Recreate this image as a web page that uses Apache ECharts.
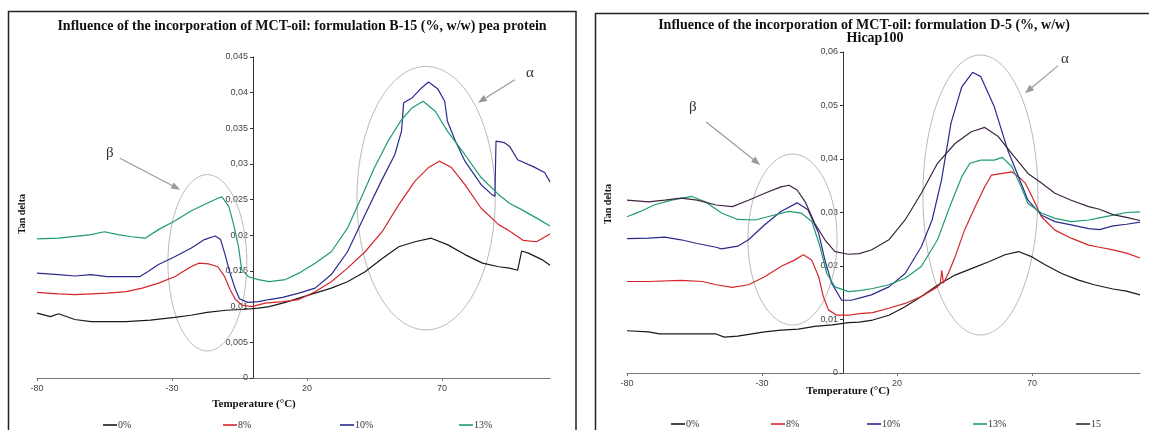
<!DOCTYPE html>
<html><head><meta charset="utf-8">
<script src="https://cdn.jsdelivr.net/npm/echarts@6/dist/echarts.min.js"></script>
<style>html,body{margin:0;padding:0;background:#fff}#c{width:1149px;height:430px}</style>
</head><body><div id="c"></div>
<script>
// ---- texts ----
const titleB = 'Influence of the incorporation of MCT-oil: formulation B-15 (%, w/w) pea protein';
const titleD1 = 'Influence of the incorporation of MCT-oil: formulation D-5 (%, w/w)';
const titleD2 = 'Hicap100';
const xName = 'Temperature (°C)';
const yName = 'Tan delta';
const legendB = ['0%', '8%', '10%', '13%'];
const legendD = ['0%', '8%', '10%', '13%', '15'];
const xTicks = [-80, -30, 20, 70];

// ---- panel B-15 (pea protein): [temperature °C, tan delta] ----
const b0 = [[-80,0.0091],[-75,0.0086],[-72,0.0090],[-66,0.0082],[-60,0.0079],[-47,0.0079],[-38,0.0081],[-29,0.0085],[-23,0.0088],[-17,0.0092],[-10,0.0095],[-4,0.0096],[2,0.0098],[6,0.0100],[12,0.0106],[17,0.0112],[23,0.0119],[29,0.0126],[35,0.0135],[41.5,0.0149],[48,0.0168],[54,0.0184],[60,0.0191],[66,0.0196],[72,0.0187],[78.5,0.0173],[85,0.0161],[91,0.0156],[95,0.0154],[98,0.0151],[99.5,0.0178],[102,0.0175],[107,0.0166],[110,0.0158]];
const b8 = [[-80,0.0120],[-72,0.0118],[-66,0.0117],[-60,0.0118],[-54,0.0119],[-47,0.0121],[-41,0.0126],[-35,0.0133],[-29,0.0142],[-23,0.0156],[-20,0.0161],[-16.5,0.0160],[-13,0.0156],[-10.5,0.0142],[-8.5,0.0124],[-6.5,0.0110],[-4,0.0102],[-0.5,0.0100],[4.5,0.0105],[11,0.0107],[17,0.0110],[23,0.0121],[29,0.0135],[35,0.0154],[41.5,0.0177],[48,0.0206],[54,0.0243],[60,0.0276],[65,0.0295],[69,0.0304],[73.5,0.0295],[78.5,0.0271],[84.5,0.0238],[91,0.0215],[95,0.0206],[100,0.0193],[105,0.0191],[110,0.0202]];
const b10 = [[-80,0.0147],[-72,0.0145],[-66,0.0143],[-60,0.0145],[-54,0.0142],[-47,0.0142],[-42,0.0142],[-39,0.0149],[-35,0.0159],[-29,0.0170],[-23,0.0182],[-18,0.0194],[-14,0.0199],[-12,0.0194],[-10.5,0.0175],[-8.5,0.0147],[-6.5,0.0124],[-5,0.0111],[-2,0.0106],[2,0.0107],[6,0.0110],[11,0.0113],[17,0.0119],[23,0.0126],[29,0.0145],[35,0.0177],[41.5,0.0229],[47.5,0.0276],[52.5,0.0313],[55,0.0346],[55.8,0.0386],[59,0.0393],[62.5,0.0407],[65,0.0415],[68.5,0.0405],[71,0.0388],[72,0.0360],[75,0.0332],[78.5,0.0304],[84.5,0.0271],[88.5,0.0257],[89.6,0.0255],[90,0.0332],[93,0.0330],[95,0.0325],[98,0.0306],[104,0.0296],[108,0.0288],[110,0.0275]];
const b13 = [[-80,0.0195],[-72,0.0196],[-65,0.0199],[-60,0.0201],[-55,0.0205],[-50,0.0201],[-45,0.0198],[-40,0.0196],[-35,0.0208],[-29,0.0220],[-23,0.0234],[-17,0.0245],[-13,0.0252],[-11.5,0.0254],[-9,0.0241],[-7.3,0.0217],[-5.4,0.0185],[-4.2,0.0152],[-1.7,0.0142],[2,0.0138],[6,0.0135],[12,0.0138],[17,0.0147],[23,0.0161],[29,0.0177],[35,0.0210],[40,0.0252],[45,0.0295],[50,0.0332],[55,0.0362],[59,0.0379],[63,0.0388],[67.5,0.0374],[72,0.0346],[78.5,0.0313],[84.5,0.0281],[91,0.0257],[95,0.0245],[100,0.0235],[106,0.0222],[110,0.0213]];

// ---- panel D-5 (Hicap100): [temperature °C, tan delta] ----
const d0 = [[-80,0.0079],[-72,0.0077],[-68,0.0073],[-60,0.0073],[-47,0.0073],[-44,0.0067],[-39,0.0069],[-29,0.0077],[-23,0.0080],[-16.5,0.0082],[-10.5,0.0087],[-4,0.0090],[2,0.0094],[6,0.0095],[11,0.0099],[17,0.0108],[23,0.0124],[29,0.0143],[35,0.0164],[41.5,0.0183],[48,0.0196],[54,0.0208],[60,0.0221],[65,0.0227],[70,0.0217],[75,0.0202],[81,0.0186],[87,0.0174],[93,0.0165],[100,0.0157],[105,0.0153],[110,0.0146]];
const d8 = [[-80,0.0171],[-72,0.0171],[-60,0.0173],[-52,0.0171],[-47,0.0165],[-41,0.0160],[-35,0.0165],[-29,0.0180],[-23,0.0199],[-18,0.0211],[-14.7,0.0221],[-11.6,0.0211],[-9,0.0180],[-7.3,0.0143],[-5.4,0.0118],[-2.3,0.0108],[2,0.0108],[6,0.0111],[11,0.0113],[17,0.0121],[23,0.0130],[29,0.0143],[35,0.0161],[36,0.0166],[36.6,0.0192],[37.2,0.0168],[39,0.0186],[41.5,0.0217],[45,0.0267],[49,0.0311],[52.5,0.0348],[55,0.0370],[59,0.0373],[62.5,0.0376],[65,0.0367],[67.5,0.0355],[70,0.0330],[73.5,0.0292],[78.5,0.0267],[84.5,0.0252],[91,0.0239],[95,0.0235],[100,0.0230],[105,0.0224],[110,0.0215]];
const d10 = [[-80,0.0251],[-72,0.0252],[-66,0.0254],[-60,0.0249],[-54,0.0242],[-47,0.0235],[-45,0.0232],[-39,0.0237],[-35,0.0249],[-29,0.0277],[-23,0.0302],[-17,0.0318],[-13,0.0305],[-9,0.0261],[-6.7,0.0211],[-4.2,0.0168],[-0.5,0.0136],[3,0.0136],[6,0.0140],[10.5,0.0146],[17,0.0161],[23,0.0186],[29,0.0236],[33,0.0286],[36.5,0.0361],[40,0.0467],[44,0.0535],[48,0.0562],[51,0.0554],[56,0.0498],[61,0.0417],[65,0.0367],[68.5,0.0323],[73.5,0.0295],[78.5,0.0283],[84.5,0.0277],[91,0.0270],[95,0.0268],[100,0.0275],[105,0.0278],[110,0.0282]];
const d13 = [[-80,0.0292],[-75,0.0302],[-70,0.0314],[-63.5,0.0323],[-56,0.0330],[-51,0.0320],[-45,0.0299],[-39,0.0287],[-32.5,0.0286],[-26.5,0.0294],[-20,0.0302],[-15.5,0.0299],[-11.5,0.0283],[-8.5,0.0236],[-6,0.0186],[-3,0.0161],[2,0.0152],[6,0.0154],[11,0.0158],[17,0.0165],[23,0.0177],[29,0.0199],[35,0.0249],[40,0.0317],[44,0.0367],[47,0.0392],[51,0.0398],[56,0.0398],[59,0.0403],[62.5,0.0386],[66,0.0348],[68.5,0.0317],[73.5,0.0299],[78.5,0.0289],[84.5,0.0283],[91,0.0286],[95,0.0290],[100,0.0295],[105,0.0300],[110,0.0301]];
const d15 = [[-80,0.0323],[-72,0.0320],[-66,0.0323],[-60,0.0327],[-54,0.0323],[-47,0.0314],[-41,0.0311],[-35,0.0323],[-29,0.0336],[-23,0.0348],[-20,0.0351],[-17,0.0342],[-14,0.0320],[-10.5,0.0280],[-6.7,0.0249],[-3,0.0227],[2,0.0222],[6,0.0223],[10.5,0.0230],[17,0.0249],[23,0.0286],[29,0.0336],[35,0.0392],[41.5,0.0429],[47.5,0.0451],[52.5,0.0459],[57.5,0.0442],[63.5,0.0404],[68.5,0.0373],[73.5,0.0355],[78.5,0.0336],[84.5,0.0323],[91,0.0311],[95,0.0306],[100,0.0296],[105,0.0291],[110,0.0285]];

// ---- annotations in data units: ellipse [cx, cy, rx, ry], arrow [x1,y1,x2,y2], label [x,y] ----
const ellipsesB = [[-16.9,0.01615,14.6,0.01236],[64.1,0.02521,25.6,0.01847]];
const ellipsesD = [[-18.7,0.02495,16.5,0.01598],[50.9,0.03327,21.3,0.02617]];
const arrowsB = [[-49.3,0.0308,-27,0.0264],[97,0.0418,83.3,0.0386]];
const arrowsD = [[-50.7,0.0469,-30.7,0.0389],[79.6,0.0574,67.4,0.0523]];
const labelPosB = [[-53,0.0316],[102.6,0.0428]];
const labelPosD = [[-55.6,0.0497],[82.2,0.0587]];
const labelText = ['β', 'α'];

const colors = {'0%':'#1a1a1a','8%':'#d3262b','10%':'#2a2a8c','13%':'#1f9b70','15':'#3d2540'};

const chart = echarts.init(document.getElementById('c'), null, {renderer:'canvas'});
const serif = '"Liberation Serif", "Times New Roman", serif';
const sans = '"Liberation Sans", Arial, sans-serif';

function fmtY(v){ return v === 0 ? '0' : String(parseFloat(v.toFixed(4))).replace('.', ','); }

function lineSeries(name, data, idx){
  return {type:'line', name, data, xAxisIndex:idx, yAxisIndex:idx, showSymbol:false, symbol:'none',
    lineStyle:{width:1.2, color:colors[name]}, itemStyle:{color:colors[name]}, z:3, animation:false};
}
function ellipseSeries(data, idx){
  return {type:'custom', xAxisIndex:idx, yAxisIndex:idx, silent:true, clip:false, z:1, animation:false,
    data, encode:{x:0, y:1},
    renderItem(params, api){
      const c = api.coord([api.value(0), api.value(1)]);
      const s = api.size([api.value(2), api.value(3)]);
      const pts = [];
      for (let i = 0; i <= 120; i++){ const a = i/120*2*Math.PI; pts.push([c[0]+s[0]*Math.cos(a), c[1]+s[1]*Math.sin(a)]); }
      return {type:'polyline', shape:{points:pts}, style:{fill:null, stroke:'#b9b9b9', lineWidth:1}};
    }};
}
function arrowSeries(data, idx){
  return {type:'custom', xAxisIndex:idx, yAxisIndex:idx, silent:true, clip:false, z:2, animation:false,
    data, encode:{x:[0,2], y:[1,3]},
    renderItem(params, api){
      const p1 = api.coord([api.value(0), api.value(1)]);
      const p2 = api.coord([api.value(2), api.value(3)]);
      const ang = Math.atan2(p2[1]-p1[1], p2[0]-p1[0]);
      const L = 9, W = 3.5;
      const bx = p2[0]-L*Math.cos(ang), by = p2[1]-L*Math.sin(ang);
      return {type:'group', children:[
        {type:'line', shape:{x1:p1[0], y1:p1[1], x2:bx, y2:by}, style:{stroke:'#9a9a9a', lineWidth:1.2}},
        {type:'polygon', shape:{points:[[p2[0],p2[1]],[bx+W*Math.sin(ang), by-W*Math.cos(ang)],[bx-W*Math.sin(ang), by+W*Math.cos(ang)]]}, style:{fill:'#9a9a9a'}}
      ]};
    }};
}
function labelSeries(data, idx){
  return {type:'custom', xAxisIndex:idx, yAxisIndex:idx, silent:true, clip:false, z:2, animation:false,
    data, encode:{x:0, y:1},
    renderItem(params, api){
      const p = api.coord([api.value(0), api.value(1)]);
      return {type:'text', x:p[0], y:p[1], style:{text:labelText[params.dataIndex], font:'15px ' + serif, fill:'#333', textAlign:'center', textVerticalAlign:'middle'}};
    }};
}

function xAxis(idx){
  return {type:'value', gridIndex:idx, min:-80, max:110, interval:50,
    axisLine:{onZero:true, lineStyle:{color:'#777', width:1}},
    axisTick:{show:true, length:3, lineStyle:{color:'#777'}},
    splitLine:{show:false},
    axisLabel:{showMaxLabel:false, fontFamily:sans, fontSize:9, color:'#444', margin:6,
      formatter: v => xTicks.includes(v) ? String(v) : ''}};
}
function yAxis(idx, max, interval){
  return {type:'value', gridIndex:idx, min:0, max, interval, position:'left', offset:0,
    axisLine:{show:true, onZero:false, lineStyle:{color:'#333', width:1}},
    axisTick:{show:true, length:3, lineStyle:{color:'#333'}},
    splitLine:{show:false},
    axisLabel:{fontFamily:sans, fontSize:9, color:'#444', margin:5, formatter:fmtY}};
}

const gridB = {left:37, top:57, width:513, height:321};
const gridD = {left:627, top:52, width:513, height:321};

const legendPosB = [98, 218, 335, 454];
const legendPosD = [666, 766, 862, 968, 1071];
const legends = [];
legendB.forEach((n,i) => legends.push({data:[n], left:legendPosB[i], top:415}));
legendD.forEach((n,i) => legends.push({data:[n], left:legendPosD[i], top:414}));
legends.forEach(l => Object.assign(l, {icon:'rect', itemWidth:14, itemHeight:1.6, selectedMode:false,
  textStyle:{fontFamily:serif, fontSize:10, color:'#333', padding:[0,0,0,-4]}}));

function txt(x, y, text, font, opts){
  return Object.assign({type:'text', x, y, silent:true, style:{text, font, fill:'#111', textAlign:'center', textVerticalAlign:'middle'}}, opts||{});
}

const option = {
  animation:false,
  backgroundColor:'#fff',
  grid:[gridB, gridD],
  xAxis:[xAxis(0), xAxis(1)],
  yAxis:[yAxis(0, 0.045, 0.005), yAxis(1, 0.06, 0.01)],
  legend: legends,
  series:[
    lineSeries('0%', b0, 0), lineSeries('8%', b8, 0), lineSeries('10%', b10, 0), lineSeries('13%', b13, 0),
    lineSeries('0%', d0, 1), lineSeries('8%', d8, 1), lineSeries('10%', d10, 1), lineSeries('13%', d13, 1), lineSeries('15', d15, 1),
    ellipseSeries(ellipsesB, 0), ellipseSeries(ellipsesD, 1),
    arrowSeries(arrowsB, 0), arrowSeries(arrowsD, 1),
    labelSeries(labelPosB, 0), labelSeries(labelPosD, 1)
  ],
  graphic:[
    {type:'rect', shape:{x:8.5, y:11.5, width:567.5, height:430}, style:{fill:null, stroke:'#222', lineWidth:1.5}, silent:true},
    {type:'rect', shape:{x:595.5, y:13.5, width:560, height:430}, style:{fill:null, stroke:'#222', lineWidth:1.5}, silent:true},
    txt(302, 26, titleB, 'bold 14px ' + serif),
    txt(864, 25, titleD1, 'bold 14px ' + serif),
    txt(875, 38, titleD2, 'bold 14px ' + serif),
    txt(254, 404, xName, 'bold 11px ' + serif),
    txt(848, 391, xName, 'bold 11px ' + serif),
    txt(22, 214, yName, 'bold 10px ' + serif, {rotation:Math.PI/2}),
    txt(608, 204, yName, 'bold 10px ' + serif, {rotation:Math.PI/2})
  ]
};
chart.setOption(option);

// place each y axis where temperature = 0 (axis crosses at 0 °C), via the x scale
const zeroB = chart.convertToPixel({xAxisIndex:0}, 0);
const zeroD = chart.convertToPixel({xAxisIndex:1}, 0);
chart.setOption({yAxis:[{offset: -(zeroB - gridB.left)}, {offset: -(zeroD - gridD.left)}]});
</script>
</body></html>
